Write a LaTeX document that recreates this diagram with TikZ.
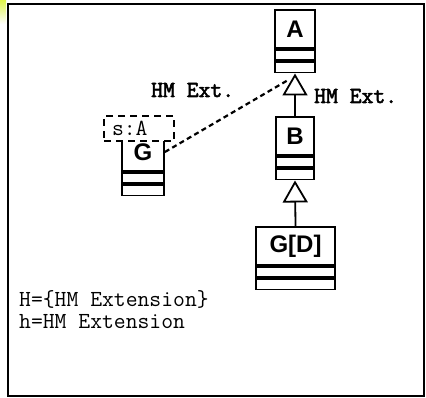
\documentclass[tikz,border=0pt]{standalone}
\usepackage{fontspec}
\setmainfont{Liberation Sans}
\newfontfamily\monobold{Latin Modern Mono}[FakeBold=2.5]
\usetikzlibrary{arrows.meta,calc}
\definecolor{glow}{HTML}{D6F21E}
\begin{document}
\begin{tikzpicture}[x=1pt,y=-1pt,
  cls/.style={draw, line width=1.8pt, fill=white, inner sep=0pt,
    minimum height=38pt, font=\fontsize{24}{24}\selectfont\bfseries},
  comp/.style={draw, line width=1.8pt, fill=white, inner sep=0pt,
    minimum height=10.5pt, anchor=north},
  gen/.style={line width=1.8pt,
    -{Triangle[open, length=22pt, width=25pt, line width=1.8pt]}},
  hmlink/.style={line width=2.2pt, dash pattern=on 5pt off 3.5pt},
  edgelabel/.style={inner sep=0pt, anchor=base west,
    font=\monobold\fontsize{23}{23}\selectfont},
  role/.style={draw, line width=1.8pt, dash pattern=on 7pt off 5pt,
    fill=white, inner xsep=8pt, inner ysep=0pt, text width=54pt,
    align=left, minimum height=25pt,
    font=\ttfamily\fontsize{23}{23}\selectfont},
  note/.style={inner sep=0pt, anchor=base west, text height=14pt,
    text depth=3pt, font=\ttfamily\fontsize{23}{21}\selectfont}]
  \useasboundingbox (0,0) rectangle (426,398);
  % corner highlight
  \shade[top color=glow, bottom color=white, opacity=0.8] (0,0) rectangle (6,24);
  % frame
  \draw[line width=2pt] (8,4) rectangle (424,396);

  % class A
  \node[cls, minimum width=40pt] (A) at (295,29) {A};
  \node[comp, minimum width=40pt] (A1) at (A.south) {};
  \node[comp, minimum width=40pt] (A2) at (A1.south) {};

  % class B
  \node[cls, minimum width=38pt] (B) at (295,136) {B};
  \node[comp, minimum width=38pt] (B1) at (B.south) {};
  \node[comp, minimum width=38pt] (B2) at (B1.south) {};

  % class G[D]
  \node[cls, minimum width=79pt] (GD) at (295.5,246) {G[D]};
  \node[comp, minimum width=79pt] (GD1) at (GD.south) {};
  \node[comp, minimum width=79pt] (GD2) at (GD1.south) {};

  % class G with its role box
  \node[cls, minimum width=42pt] (G) at (143,152) {G};
  \node[comp, minimum width=42pt] (G1) at (G.south) {};
  \node[comp, minimum width=42pt] (G2) at (G1.south) {};
  \node[role] (sA) at (139,128.5) {s:A};

  % generalisations
  \draw[gen] (B.north) -- (A2.south);
  \draw[gen] (GD.north) -- (B2.south);

  % extension link
  \coordinate (Atip) at ($(A2.south)+(-6,6)$);
  \draw[hmlink] (G.east) -- (Atip);

  % labels
  \node[edgelabel] (l1) at (151,97) {HM Ext.};
  \node[edgelabel] (l2) at (314,103) {HM Ext.};

  % definitions
  \node[note] (defH) at (19,306) {H=\{HM Extension\}};
  \node[note] (defh) at (19,329) {h=HM Extension};
\end{tikzpicture}
\end{document}
